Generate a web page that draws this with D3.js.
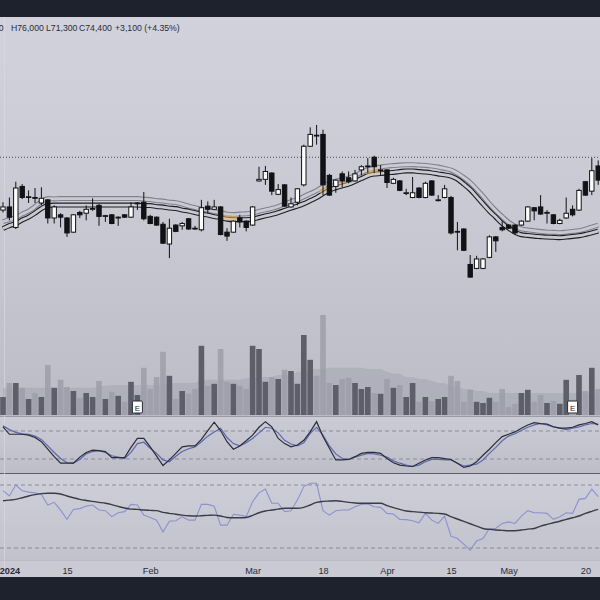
<!DOCTYPE html>
<html><head><meta charset="utf-8">
<script src="https://cdn.jsdelivr.net/npm/d3@7"></script>
<style>html,body{margin:0;padding:0;background:#1e222d;} svg{display:block;}</style>
</head><body><svg id="c" width="600" height="600"></svg>
<script>
// ---------- DATA ----------
const openP  = [69400,69800,67200,72400,71000,71000,70300,70700,68400,68800,
                68400,66600,69100,69000,69500,70000,68600,68800,68400,68800,
                68500,70200,70400,68600,68500,67600,65100,67500,67400,68300,
                67100,66900,69900,69500,69800,66600,66600,68400,68000,67500,
                73100,73300,74100,71400,72600,69800,70400,72600,77500,78900,
                79000,73800,72400,74000,73500,73100,74500,74900,76100,74400,
                74500,72800,73100,71500,71000,72200,71000,73100,70600,71000,
                71000,66700,67000,62500,62000,62000,63400,66000,67200,67500,
                67500,67500,68000,69700,69800,69000,68800,67700,68400,69500,
                69400,73000,71800,75000];
const highP  = [70400,71000,73000,72700,71900,72200,72300,70800,70000,69000,
                68500,68900,69300,70000,70900,70200,68800,68900,68600,68900,
                70400,70400,71700,68800,68600,67900,68300,67600,67900,68400,
                67400,70700,70500,70700,69900,67100,68100,68800,68100,69900,
                74900,75000,74200,72700,72700,71000,72200,77700,79900,80200,
                79600,74000,73300,74300,74300,74500,75100,76000,76300,75100,
                74600,73500,73200,72100,73600,72300,73000,73200,71300,72600,
                71200,67900,67100,63700,63600,63300,66200,66100,68000,67600,
                67600,68100,69900,69800,71300,69400,68900,68300,71000,70000,
                72100,73100,76000,75700];
const lowP   = [69100,68100,67000,70800,70300,70300,70000,67700,67700,67200,
                66000,66500,68400,68100,69300,67400,67900,67600,67400,68400,
                68400,69400,68100,67600,67400,65100,63300,66600,66900,66900,
                66900,66700,69000,69400,66200,65500,66500,67200,66700,67400,
                73000,72600,71300,71300,69800,69700,70000,72400,77400,77700,
                71300,71200,71600,72300,72800,73000,73800,74100,74100,73800,
                72200,72700,71800,71300,70900,70900,70900,71200,70500,70900,
                66300,64300,64200,60800,61900,61900,63300,64100,66700,67000,
                66300,67400,67900,68100,68800,67700,67600,67600,68300,68600,
                69300,71200,71300,72600];
const closeP = [69800,68500,72200,71000,71100,70900,70900,68400,69800,68500,
                66500,68800,68800,69500,69600,68600,68700,67700,68500,68500,
                69800,70300,68300,67700,67500,65200,67100,66700,67700,67000,
                67000,69700,69500,69800,66300,66100,68000,67900,67200,69800,
                73300,74300,71800,72000,69900,70200,72100,77500,79000,78800,
                72600,71300,73200,73100,73000,74000,74900,75000,74900,74500,
                72900,73300,71900,71600,71600,71000,72800,71300,70700,72100,
                66500,66600,64300,60900,63200,63200,66000,65500,66900,67100,
                66500,68000,69800,69300,68900,69100,67700,68100,69000,68800,
                71900,71300,74400,73200];
// volume (millions) and its moving average
const volume = [4.5,8,8,6.8,4,5.5,4.5,12.5,6.8,8.8,
                7,6,4.3,5.5,4.5,8.5,4,5.8,4.8,3.3,
                8.3,5,11.8,6.5,9.5,15.8,9.8,4,6,5.3,
                6.5,17.3,7.3,7.8,16.5,8.3,7.8,7.3,6.5,17.3,
                16.5,8.3,9.5,9,11.3,11,7.8,20,13.8,9.8,
                25,8,7.5,9,9.3,8,6.5,7,5.5,5.3,
                9,6.8,7.5,4.5,8,3.3,4.5,3.5,4,4.5,
                9.8,8.5,3.3,6.3,3.3,3,4.3,3.3,6.5,2,
                2.8,5.5,6.3,3.3,5,3,3.5,2.8,8.8,3.8,
                10,6,11.8,6.5];
const volumeMA = [6.8,6.8,6.8,6.8,6.8,6.8,6.8,6.8,6.8,6.8,
                  6.8,6.8,6.8,6.8,6.8,7.1,7.3,7.5,7.5,7.5,
                  7.5,7.5,7.5,7.5,7.5,7.5,8,8,8,8,
                  8,8.8,8.8,8.8,8.8,8.8,8.8,8.8,9.2,9.5,
                  9.5,9.5,9.5,10,10,10,10.8,10.8,11.5,11.5,
                  11.5,11.8,11.8,11.8,11.8,11.8,11.8,11.5,11.5,11.5,
                  10.8,10.3,10.3,9.5,9.5,9,9,8.5,8,8,
                  7,7,6.5,6.5,6,6,5.5,5.5,5.5,5.5,
                  5.5,5.5,5.5,5.5,5.5,5.5,5.5,5.5,5.5,5.5,
                  5.5,5.5,5.5,5.5];
// moving-average ribbon (upper grey, lower black)
const maUpper = [67940,68190,68440,68890,69270,69840,70480,70860,70820,70860,
                 70860,70860,70860,70860,70860,70860,70860,70860,70860,70860,
                 70860,70860,70790,70730,70600,70540,70410,70350,70160,69900,
                 69710,69520,69400,69210,69080,68890,68830,68890,68930,69020,
                 69230,69420,69610,69850,70160,70480,70730,71110,71490,71870,
                 72380,72830,73080,73270,73460,73800,74160,74540,74730,74860,
                 74980,75050,75110,75150,75160,75110,75070,74980,74860,74680,
                 74480,74070,73520,72890,72060,71170,70180,69330,68570,67850,
                 67360,67020,66890,66790,66670,66600,66580,66540,66600,66690,
                 66780,66980,67240,67490];
const maLower = [67050,67430,67680,68130,68510,69020,69590,69970,70030,70030,
                 70030,70030,70030,70030,70030,70030,70030,70030,70030,70030,
                 70030,70030,69970,69970,69840,69780,69650,69590,69400,69270,
                 69080,68890,68760,68570,68440,68250,68190,68190,68190,68250,
                 68460,68660,68850,69080,69360,69650,69900,70220,70600,70980,
                 71490,71940,72230,72470,72700,73040,73400,73780,73970,74030,
                 74130,74180,74290,74370,74370,74290,74220,74120,73990,73870,
                 73710,73330,72700,72000,71110,70180,69290,68510,67710,67110,
                 66600,66270,66180,66090,66030,65970,65940,65900,65970,66060,
                 66150,66310,66500,66730];
// stochastic %K (black) and %D (blue)
const stochK = [89,73,73,73,71,66,57,41,25,11,
                11,11,24,34,39,38,36,23,23,23,
                45,64,64,46,26,6,18,32,46,48,
                48,62,81,99,81,57,41,48,59,71,
                88,100,89,64,53,46,50,60,78,100,
                68,43,18,18,19,25,32,34,34,32,
                21,12,7,5,4,11,18,23,23,21,
                19,11,2,5,14,28,41,55,68,73,
                78,86,93,98,96,95,89,86,86,88,
                93,96,100,93];
const stochD = [91,83,77,74,73,69,62,48,34,21,
                12,11,19,31,36,38,34,27,24,21,
                34,53,56,43,32,18,14,26,36,42,
                46,57,69,78,86,66,53,48,55,64,
                76,88,86,76,60,52,48,55,75,88,
                71,48,31,21,19,24,28,32,31,28,
                24,16,11,7,4,7,14,19,19,18,
                18,11,5,7,9,18,32,45,59,69,
                74,81,88,93,96,93,89,86,83,86,
                89,93,96,95];
// RSI (purple) and its moving average (dark)
const rsi = [66.4,63,70,66.4,65.5,65,64,57.3,59,54,
             48.2,54.5,55,56.6,57.3,54.1,53.7,49.9,52.4,53.1,
             57.7,57.3,50.9,49.4,47.7,40.3,47,47.3,49.9,47.7,
             47.7,57.7,57.7,56.6,44.5,44.5,51.4,50.9,49.9,59.4,
             65,67.5,58.4,58.4,53.1,53.7,60.5,69,71.1,71.1,
             53.7,50.9,53.7,54.1,54.1,56.2,57.7,58,56.2,55.8,
             52,51.6,48.2,48,47.3,46,52,47.7,45.6,50.3,
             37.5,36,32.5,28.7,34.4,36,42.4,42.4,45.6,46.6,
             45.6,50.3,53.7,52.4,52.4,52,48.2,49.9,52.4,52,
             60.9,61.5,67.3,62.6];
const rsiMA = [60,60.4,60.9,61.9,63,63.9,64.5,64.8,64.8,64.3,
               63,61.9,60.9,60.2,59.6,59,58.4,57.5,56.4,55.4,
               54.7,54.5,54.1,53.9,53.7,52.6,52,51.4,50.9,50.5,
               50.3,50.5,50.7,50.9,50.3,49.4,49.2,49.2,49.4,50.7,
               52.4,53.5,54.1,54.7,55.2,55.2,55.2,55.8,57.3,59,
               59.6,59.8,60,59.6,59,58.6,58.4,58.4,58.4,58.4,
               56.9,55.6,54.5,53.5,53.1,52.8,52.4,52.2,52,51.6,
               49.9,48.4,46.9,45.4,43.9,42.4,41.8,41.4,41.2,41,
               41,41.4,42,42.4,43.9,45,46,47,48.2,49.2,
               50.3,52,53.3,54.5];
const tickIdx    = [1, 10, 23, 39, 50, 60, 70, 79, 91];
const tickLabels = ["2024", "15", "Feb", "Mar", "18", "Apr", "15", "May", "20"];
const earningsIdx = [21, 89];
const crossSpans = [[34.4, 36.4], [49.6, 50.6], [52.4, 53.8], [57.0, 59.0]];
const priceLine = 76100;
const legendOpen = "O71,300";
const legendItems = ["H76,000", "L71,300", "C74,400", "+3,100 (+4.35%)"];

// ---------- LAYOUT ----------
const svg = d3.select("#c");
const W = 600;
const top0 = 17, mainBot = 416, stTop = 417, stBot = 473, rTop = 474, rBot = 560, axBot = 577;
const n = closeP.length;
const x = d3.scaleLinear().domain([0, n - 1]).range([3, 3 + 6.4 * (n - 1)]);
const yP = d3.scaleLinear().domain([43400, 93900]).range([415, 17]);
const yV = d3.scaleLinear().domain([0, 25]).range([415, 315]);
const yS = d3.scaleLinear().domain([20, 80]).range([459, 431]);
const yR = d3.scaleLinear().domain([30, 70]).range([548, 485]);

const defs = svg.append("defs");
function grad(id, y1, y2, stops) {
  const g = defs.append("linearGradient").attr("id", id).attr("gradientUnits", "userSpaceOnUse")
    .attr("x1", 0).attr("x2", 0).attr("y1", y1).attr("y2", y2);
  stops.forEach(s => g.append("stop").attr("offset", s[0]).attr("stop-color", s[1]));
}
grad("bgMain", top0, mainBot, [[0, "#d2d2dd"], [0.55, "#c7c8d2"], [1, "#bbbcc6"]]);
grad("bgSt", stTop, stBot, [[0, "#cacbd5"], [1, "#bdbec8"]]);
grad("bgR", rTop, rBot, [[0, "#cecfd9"], [1, "#c1c2cc"]]);
function clip(id, y0, y1) {
  defs.append("clipPath").attr("id", id).append("rect").attr("x", 0).attr("y", y0).attr("width", W).attr("height", y1 - y0);
}
clip("cMain", top0, mainBot); clip("cSt", stTop, stBot); clip("cR", rTop, rBot);

// frame
svg.append("rect").attr("x", 0).attr("y", 0).attr("width", W).attr("height", 600).attr("fill", "#1e222d");
svg.append("rect").attr("x", 0).attr("y", top0).attr("width", W).attr("height", mainBot - top0).attr("fill", "url(#bgMain)");
svg.append("rect").attr("x", 0).attr("y", stTop).attr("width", W).attr("height", stBot - stTop).attr("fill", "url(#bgSt)");
svg.append("rect").attr("x", 0).attr("y", rTop).attr("width", W).attr("height", rBot - rTop).attr("fill", "url(#bgR)");
svg.append("rect").attr("x", 0).attr("y", rBot).attr("width", W).attr("height", axBot - rBot).attr("fill", "#c9cad4");
svg.append("line").attr("x1", 0).attr("x2", W).attr("y1", mainBot + 0.5).attr("y2", mainBot + 0.5).attr("stroke", "#9a9ba6");
svg.append("line").attr("x1", 0).attr("x2", W).attr("y1", stBot + 0.5).attr("y2", stBot + 0.5).attr("stroke", "#5d5e68").attr("stroke-width", 1.2);
svg.append("line").attr("x1", 0).attr("x2", W).attr("y1", rBot + 0.5).attr("y2", rBot + 0.5).attr("stroke", "#b9bac4");
svg.append("line").attr("x1", 4.5).attr("x2", 4.5).attr("y1", top0).attr("y2", axBot).attr("stroke", "#dcdce5").attr("stroke-width", 1).attr("opacity", 0.6);

// ---------- MAIN PANE ----------
const gM = svg.append("g").attr("clip-path", "url(#cMain)");
// volume MA area
gM.append("path").datum(volumeMA)
  .attr("d", d3.area().x((d, i) => x(i)).y0(yV(0)).y1(d => yV(d)))
  .attr("fill", "#9e9fab").attr("opacity", 0.45);
// volume bars
gM.selectAll(".vol").data(volume).join("rect")
  .attr("x", (d, i) => x(i) - 2.8).attr("width", 5.6)
  .attr("y", d => yV(d)).attr("height", d => yV(0) - yV(d))
  .attr("fill", (d, i) => closeP[i] >= openP[i] ? "#5d5e69" : "#9d9ea9")
  .attr("opacity", (d, i) => closeP[i] >= openP[i] ? 1 : 0.85);
// earnings markers
earningsIdx.forEach(i => {
  const g = gM.append("g");
  g.append("rect").attr("x", x(i) - 5).attr("y", 401).attr("width", 10).attr("height", 12)
    .attr("fill", "#ffffff").attr("stroke", "#2a2b33").attr("stroke-width", 1).attr("rx", 1);
  g.append("text").attr("x", x(i)).attr("y", 410.5).attr("text-anchor", "middle")
    .attr("font-family", "Liberation Sans, Arial, sans-serif").attr("font-size", 8).attr("fill", "#2a2b33").text("E");
});
// dotted price line
gM.append("line").attr("x1", 0).attr("x2", W).attr("y1", yP(priceLine)).attr("y2", yP(priceLine))
  .attr("stroke", "#4a4b55").attr("stroke-dasharray", "1,2").attr("stroke-width", 1);
// ribbon (hollow lines)
const lineP = d3.line().x((d, i) => x(i)).y(d => yP(d)).curve(d3.curveMonotoneX);
function hollow(data, col) {
  gM.append("path").datum(data).attr("d", lineP).attr("fill", "none").attr("stroke", col).attr("stroke-width", 5);
  gM.append("path").datum(data).attr("d", lineP).attr("fill", "none").attr("stroke", "url(#bgMain)").attr("stroke-width", 2.8);
}
hollow(maUpper, "#80818c");
hollow(maLower, "#1d1e24");
// cross highlights
const upperAt = t => { const a = Math.floor(t), b = Math.min(a + 1, n - 1), f = t - a; return maUpper[a] * (1 - f) + maUpper[b] * f; };
crossSpans.forEach(s => {
  const pts = d3.range(s[0], s[1] + 0.001, 0.2).map(t => [x(t), yP(upperAt(t)) + 3]);
  gM.append("path").attr("d", d3.line()(pts)).attr("fill", "none")
    .attr("stroke", "#f2b84b").attr("stroke-width", 4).attr("stroke-linecap", "round").attr("opacity", 0.55);
});
// candles
const cg = gM.selectAll(".cd").data(closeP).join("g");
cg.append("line").attr("x1", (d, i) => x(i)).attr("x2", (d, i) => x(i))
  .attr("y1", (d, i) => yP(highP[i])).attr("y2", (d, i) => yP(lowP[i]))
  .attr("stroke", "#111216").attr("stroke-width", 1);
cg.append("rect")
  .attr("x", (d, i) => x(i) - 2.2).attr("width", 4.4)
  .attr("y", (d, i) => yP(Math.max(openP[i], closeP[i])))
  .attr("height", (d, i) => Math.max(0.8, Math.abs(yP(openP[i]) - yP(closeP[i]))))
  .attr("fill", (d, i) => closeP[i] >= openP[i] ? "#ffffff" : "#111216")
  .attr("stroke", "#111216").attr("stroke-width", 1);

// legend
const lf = "Liberation Sans, Arial, sans-serif";
svg.append("text").attr("x", 3.5).attr("y", 30.5).attr("text-anchor", "end").attr("font-family", lf)
  .attr("font-size", 8.7).attr("fill", "#2a2c35").text(legendOpen);
const legX = [11, 46, 79, 115];
legendItems.forEach((t, k) => svg.append("text").attr("x", legX[k]).attr("y", 30.5).attr("font-family", lf)
  .attr("font-size", 8.7).attr("fill", "#2a2c35").text(t));

// ---------- STOCHASTIC PANE ----------
const gS = svg.append("g").attr("clip-path", "url(#cSt)");
[80, 20].forEach(v => gS.append("line").attr("x1", 0).attr("x2", W).attr("y1", yS(v)).attr("y2", yS(v))
  .attr("stroke", "#8b8c97").attr("stroke-dasharray", "4,3"));
const lineS = d3.line().x((d, i) => x(i)).y(d => yS(d));
gS.append("path").datum(stochD).attr("d", lineS).attr("fill", "none").attr("stroke", "#5d66b2").attr("stroke-width", 1.2);
gS.append("path").datum(stochK).attr("d", lineS).attr("fill", "none").attr("stroke", "#2b2c34").attr("stroke-width", 1.2);

// ---------- RSI PANE ----------
const gR = svg.append("g").attr("clip-path", "url(#cR)");
[70, 30].forEach(v => gR.append("line").attr("x1", 0).attr("x2", W).attr("y1", yR(v)).attr("y2", yR(v))
  .attr("stroke", "#8b8c97").attr("stroke-dasharray", "4,3"));
const lineR = d3.line().x((d, i) => x(i)).y(d => yR(d));
gR.append("path").datum(rsi).attr("d", lineR).attr("fill", "none").attr("stroke", "#8e90d0").attr("stroke-width", 1.1);
gR.append("path").datum(rsiMA).attr("d", lineR.curve(d3.curveMonotoneX)).attr("fill", "none").attr("stroke", "#3b3c45").attr("stroke-width", 1.4);

// ---------- TIME AXIS ----------
const axisScale = d3.scaleOrdinal().domain(tickIdx).range(tickLabels);
const ax = svg.append("g").attr("transform", `translate(0,${rBot})`)
  .call(d3.axisBottom(x).tickValues(tickIdx).tickFormat(i => axisScale(i)).tickSize(0).tickPadding(7));
ax.select(".domain").remove();
ax.selectAll("text").attr("font-family", lf).attr("font-size", 9.2).attr("fill", "#2a2c35")
  .attr("font-weight", (d) => d === 1 ? "bold" : "normal");
</script></body></html>
